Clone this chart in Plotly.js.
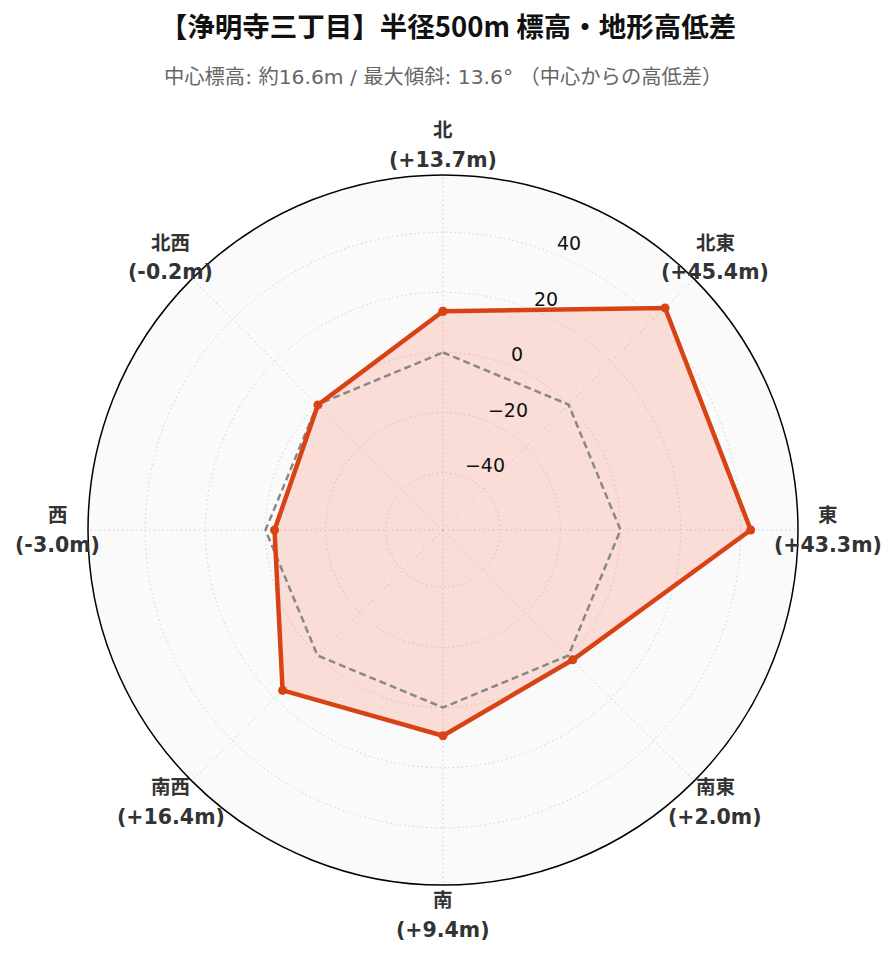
<!DOCTYPE html>
<html>
<head>
<meta charset="utf-8">
<script src="https://cdn.plot.ly/plotly-3.0.1.min.js"></script>
<style>html,body{margin:0;padding:0;background:#fff;}#chart{width:896px;height:962px;}</style>
</head>
<body>
<div id="chart"></div>
<script>
// ---- data ----
const directions = ['北', '北東', '東', '南東', '南', '南西', '西', '北西'];
const angles = [0, 45, 90, 135, 180, 225, 270, 315];
const elevDiff = [13.7, 45.4, 43.3, 2.0, 9.4, 16.4, -3.0, -0.2];
const baseline = [0, 0, 0, 0, 0, 0, 0, 0];
const radialTicks = [-40, -20, 0, 20, 40];
const radialTickText = ['\u221240', '\u221220', '0', '20', '40'];
const titleText = '【浄明寺三丁目】半径500m 標高・地形高低差';
const subtitleText = '中心標高: 約16.6m / 最大傾斜: 13.6° （中心からの高低差）';

// ---- build ----
const close = a => a.concat([a[0]]);
const thetaC = close(angles);
const maxAbs = Math.max(...elevDiff.map(Math.abs)) * 1.3;
const labelAngle = 22.5;

const RED = '#D84315';
const latin = 'DejaVu Sans, Noto Sans CJK JP, sans-serif';
const GRID = '#cfcfcf';

const traces = [
  {
    type: 'scatterpolar', r: close(elevDiff), theta: thetaC, mode: 'none',
    fill: 'toself', fillcolor: 'rgba(255,115,85,0.21)', hoverinfo: 'skip', showlegend: false
  },
  {
    type: 'scatterpolar', r: close(baseline), theta: thetaC, mode: 'lines',
    line: {color: '#888888', width: 2.5, dash: '7px,4px'}, showlegend: false
  },
  {
    type: 'scatterpolar', r: close(elevDiff), theta: thetaC, mode: 'lines+markers',
    line: {color: RED, width: 4.5}, marker: {color: RED, size: 9}, showlegend: false
  },
  {
    type: 'scatterpolar', r: radialTicks, theta: radialTicks.map(() => labelAngle),
    mode: 'text', text: radialTickText, textposition: 'top right', cliponaxis: false,
    textfont: {family: 'DejaVu Sans, sans-serif', size: 19, color: '#111'},
    hoverinfo: 'skip', showlegend: false
  }
];

const annotations = [];
const k = 385 / 355;
directions.forEach((d, i) => {
  const t = angles[i] * Math.PI / 180;
  const x = 0.5 + 0.5 * k * Math.sin(t);
  const y = 0.5 + 0.5 * k * Math.cos(t);
  const v = elevDiff[i];
  const valText = '(' + (v >= 0 ? '+' : '') + v.toFixed(1) + 'm)';
  annotations.push({xref: 'paper', yref: 'paper', x: x, y: y, xanchor: 'center', yanchor: 'middle',
    text: '<b>' + d + '</b>', showarrow: false, yshift: 14.5,
    font: {family: latin, size: 19.5, color: '#333'}});
  annotations.push({xref: 'paper', yref: 'paper', x: x, y: y, xanchor: 'center', yanchor: 'middle',
    text: '<b>' + valText + '</b>', showarrow: false, yshift: -14.5,
    font: {family: latin, size: 20.5, color: '#333'}});
});
annotations.push({xref: 'paper', yref: 'paper', x: 0.5, y: 1 + 98 / 710, xanchor: 'center', yanchor: 'middle',
  text: subtitleText, showarrow: false,
  font: {family: latin, size: 20.3, color: '#666'}});

const layout = {
  width: 896, height: 962,
  margin: {l: 88, r: 98, t: 175, b: 77},
  paper_bgcolor: '#ffffff',
  title: {text: '<b>' + titleText + '</b>', x: 0.5, xanchor: 'center', xref: 'container',
    y: 1 - 27 / 962, yanchor: 'middle', yref: 'container',
    font: {family: 'Noto Sans CJK JP, sans-serif', size: 27.5, color: '#111'}},
  polar: {
    domain: {x: [0, 1], y: [0, 1]},
    bgcolor: '#fafafa',
    angularaxis: {
      direction: 'clockwise', rotation: 90, thetaunit: 'degrees',
      tickvals: angles, showticklabels: false, ticks: '',
      showline: true, linecolor: '#000', linewidth: 1.5,
      showgrid: true, gridcolor: GRID, griddash: '1.5px,3px', gridwidth: 1.3
    },
    radialaxis: {
      range: [-maxAbs, maxAbs], angle: 67.5,
      tickvals: radialTicks, showticklabels: false, ticks: '',
      showline: false, showgrid: true, gridcolor: GRID, griddash: '1.5px,3px', gridwidth: 1.3
    }
  },
  annotations: annotations,
  showlegend: false
};

Plotly.newPlot('chart', traces, layout, {displayModeBar: false});
</script>
</body>
</html>
